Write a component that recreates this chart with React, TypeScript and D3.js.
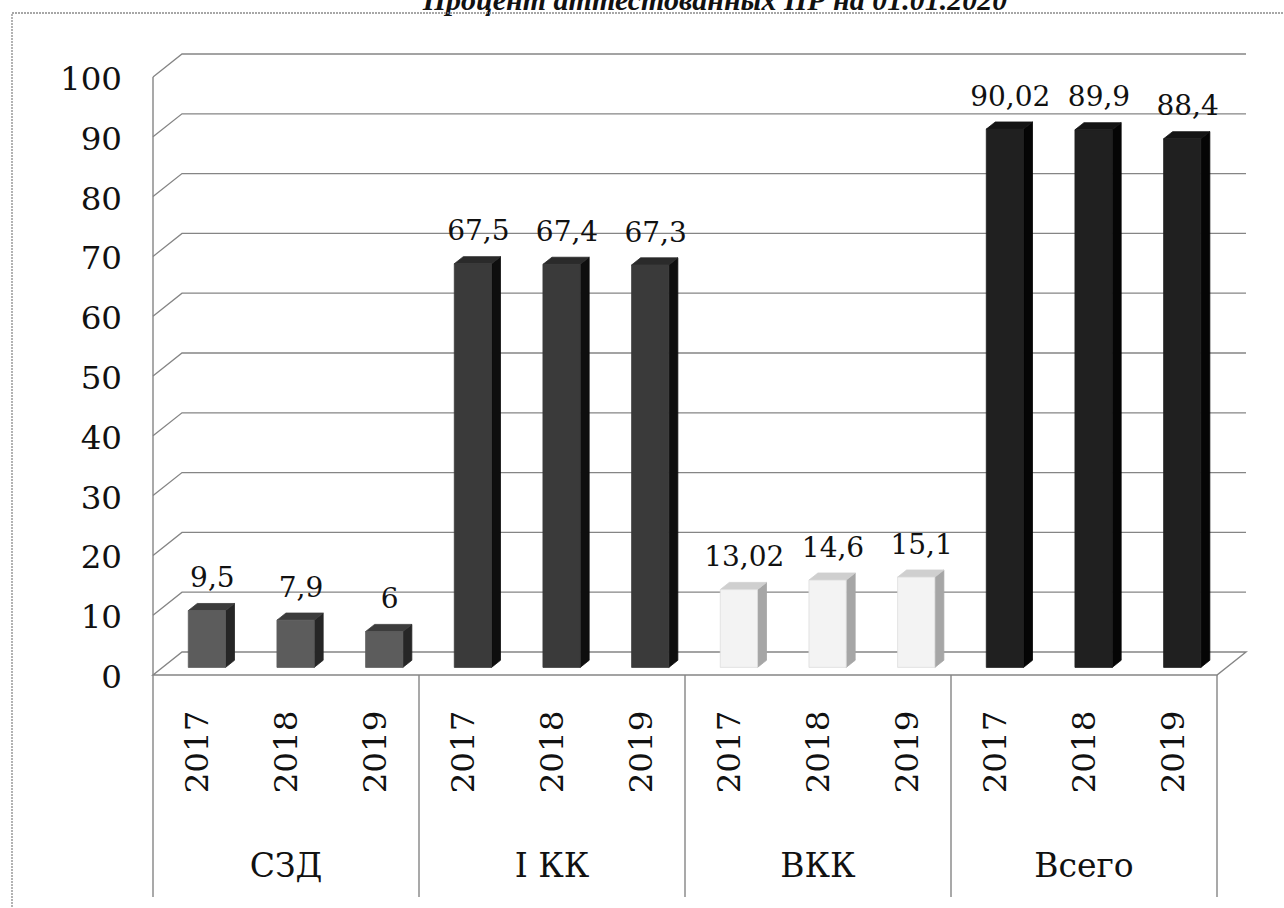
import React from 'react';
import * as d3 from 'd3';

const categories = ['СЗД', 'I КК', 'ВКК', 'Всего'];
const years = ['2017', '2018', '2019'];
const values = [
  [9.5, 7.9, 6],
  [67.5, 67.4, 67.3],
  [13.02, 14.6, 15.1],
  [90.02, 89.9, 88.4],
];
const valueLabels = [
  ['9,5', '7,9', '6'],
  ['67,5', '67,4', '67,3'],
  ['13,02', '14,6', '15,1'],
  ['90,02', '89,9', '88,4'],
];
const yTicks = [0, 10, 20, 30, 40, 50, 60, 70, 80, 90, 100];
const title = 'Процент аттестованных ПР на 01.01.2020';

// colours per category: front, side, top
const palette: Record<string, [string, string, string]> = {
  'СЗД': ['#5c5c5c', '#262626', '#3c3c3c'],
  'I КК': ['#3a3a3a', '#0e0e0e', '#2a2a2a'],
  'ВКК': ['#f3f3f3', '#a6a6a6', '#cfcfcf'],
  'Всего': ['#202020', '#050505', '#141414'],
};

const W = 1284;
const H = 908;
const plotLeft = 153;
const plotRight = 1217;
const depthX = 29;
const depthY = 23;
const barD0 = 0.33;
const barD1 = 0.64;
const font = '"DejaVu Serif", "Liberation Serif", serif';

export default function App() {
  const bars = categories.flatMap((c, ci) =>
    years.map((yr, yi) => ({ cat: c, year: yr, key: `${ci}-${yi}`, value: values[ci][yi], label: valueLabels[ci][yi] }))
  );

  const x = d3.scaleBand<string>().domain(bars.map(b => b.key)).range([plotLeft, plotRight]).padding(0);
  const group = d3.scaleBand<string>().domain(categories).range([plotLeft, plotRight]).padding(0);
  const yFront = d3.scaleLinear().domain([0, 100]).range([675, 77]);

  // projection of front-plane coords into depth
  const p = (px: number, v: number, d: number): [number, number] => [px + depthX * d, yFront(v) - depthY * d];
  const poly = (pts: [number, number][]) => pts.map(q => q.join(',')).join(' ');

  const barW = x.bandwidth() * 0.42;
  const gridStroke = '#858585';

  return (
    <svg width={W} height={H} style={{ position: 'absolute', left: 0, top: 0, background: '#fff' }}>
      <text x={715} y={10} textAnchor="middle" fontFamily='"Liberation Serif", serif' fontWeight="bold"
        fontStyle="italic" fontSize={30} fill="#111">{title}</text>
      <rect x={12} y={13} width={W + 20} height={H + 20} fill="none" stroke="#8a8a8a" strokeWidth={1.3} strokeDasharray="2,1" />

      {/* floor */}
      <polygon points={poly([p(plotLeft, 0, 0), p(plotRight, 0, 0), p(plotRight, 0, 1), p(plotLeft, 0, 1)])}
        fill="#fff" stroke={gridStroke} strokeWidth={1.4} />

      {/* wall gridlines */}
      {yTicks.filter(t => t > 0).map(t => {
        const a = p(plotLeft, t, 0);
        const b = p(plotLeft, t, 1);
        const c = p(plotRight, t, 1);
        return <polyline key={t} points={poly([a, b, c])} fill="none" stroke={gridStroke} strokeWidth={1.3} />;
      })}

      {/* left axis line and category dividers */}
      <line x1={plotLeft} x2={plotLeft} y1={yFront(100)} y2={897} stroke={gridStroke} strokeWidth={1.4} />
      {categories.map(c => {
        const xr = (group(c) ?? 0) + group.bandwidth();
        return <line key={c} x1={xr} x2={xr} y1={yFront(0)} y2={897} stroke={gridStroke} strokeWidth={1.4} />;
      })}

      {/* tick labels */}
      {yTicks.map(t => (
        <text key={t} x={122} y={yFront(t) + 2} textAnchor="end" dominantBaseline="central"
          fontFamily={font} fontSize={32.5} fill="#111">{t}</text>
      ))}

      {/* bars */}
      {bars.map(b => {
        const cx = (x(b.key) ?? 0) + x.bandwidth() / 2;
        const x0 = cx - barW / 2;
        const x1 = cx + barW / 2;
        const [front, side, top] = palette[b.cat];
        return (
          <g key={b.key}>
            <polygon points={poly([p(x1, 0, barD0), p(x1, 0, barD1), p(x1, b.value, barD1), p(x1, b.value, barD0)])}
              fill={side} stroke={side} strokeWidth={0.8} />
            <polygon points={poly([p(x0, b.value, barD0), p(x1, b.value, barD0), p(x1, b.value, barD1), p(x0, b.value, barD1)])}
              fill={top} stroke={top} strokeWidth={0.8} />
            <polygon points={poly([p(x0, 0, barD0), p(x1, 0, barD0), p(x1, b.value, barD0), p(x0, b.value, barD0)])}
              fill={front} stroke={b.cat === 'ВКК' ? '#dddddd' : front} strokeWidth={0.8} />
          </g>
        );
      })}

      {/* value labels */}
      {bars.map(b => {
        const cx = (x(b.key) ?? 0) + x.bandwidth() / 2;
        const [lx, ly] = p(cx, b.value, 1);
        return (
          <text key={b.key} x={lx - 14} y={ly - 8} textAnchor="middle" fontFamily={font} fontSize={28} fill="#111">
            {b.label}
          </text>
        );
      })}

      {/* year labels */}
      {bars.map(b => {
        const cx = (x(b.key) ?? 0) + x.bandwidth() / 2;
        return (
          <text key={b.key} transform={`translate(${cx},752) rotate(-90)`} textAnchor="middle" dominantBaseline="central"
            fontFamily={font} fontSize={32.5} fill="#111">{b.year}</text>
        );
      })}

      {/* category labels */}
      {categories.map(c => (
        <text key={c} x={(group(c) ?? 0) + group.bandwidth() / 2} y={877} textAnchor="middle"
          fontFamily={font} fontSize={33} fill="#111">{c}</text>
      ))}
    </svg>
  );
}
